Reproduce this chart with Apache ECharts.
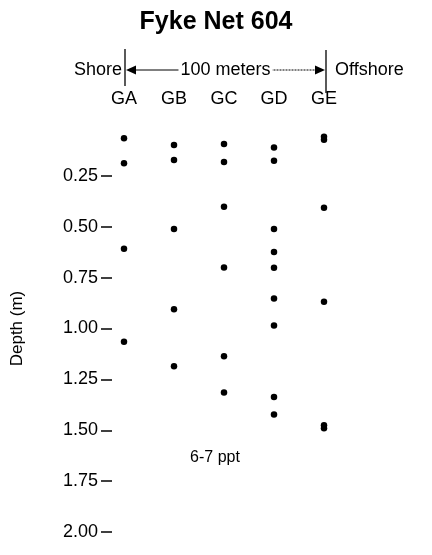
<!DOCTYPE html>
<html>
<head>
<meta charset="utf-8">
<script src="https://cdn.jsdelivr.net/npm/echarts@6/dist/echarts.min.js"></script>
<style>
html,body{margin:0;padding:0;background:#fff;}
#chart{width:432px;height:555px;}
</style>
</head>
<body>
<div id="chart"></div>
<script>
// ---- data ----
const stations = ['GA', 'GB', 'GC', 'GD', 'GE'];
const gaDepth = [0.065, 0.188, 0.608, 1.065];
const gbDepth = [0.098, 0.172, 0.511, 0.906, 1.185];
const gcDepth = [0.093, 0.182, 0.402, 0.700, 1.136, 1.314];
const gdDepth = [0.110, 0.176, 0.511, 0.624, 0.702, 0.852, 0.985, 1.337, 1.422];
const geDepth = [0.058, 0.072, 0.407, 0.869, 1.476, 1.490];
const depthTicks = [0.25, 0.50, 0.75, 1.00, 1.25, 1.50, 1.75, 2.00];
const titleText = 'Fyke Net 604';
const axisName = 'Depth (m)';
const salinityNote = '6-7 ppt';
const distanceNote = '100 meters';

const FONT = '"Liberation Sans", Arial, Helvetica, sans-serif';
const depthsByStation = [gaDepth, gbDepth, gcDepth, gdDepth, geDepth];

const chart = echarts.init(document.getElementById('chart'), null, {renderer: 'canvas'});

const option = {
  backgroundColor: '#fff',
  animation: false,
  title: {
    text: titleText,
    left: 'center',
    top: 5,
    textStyle: {fontFamily: FONT, fontWeight: 'bold', fontSize: 25, color: '#000'}
  },
  grid: {left: 99, width: 250, top: 125, height: 407},
  xAxis: {
    type: 'category',
    data: stations,
    position: 'top',
    boundaryGap: true,
    axisLine: {show: false},
    axisTick: {show: false},
    splitLine: {show: false},
    axisLabel: {fontFamily: FONT, fontSize: 18, color: '#000', margin: 17}
  },
  yAxis: {
    type: 'value',
    inverse: true,
    min: 0,
    max: 2,
    interval: 0.25,
    offset: -13,
    axisLine: {show: false},
    splitLine: {show: false},
    axisTick: {
      show: true, inside: false, length: 11,
      customValues: depthTicks,
      lineStyle: {color: '#000', width: 1.5}
    },
    axisLabel: {
      customValues: depthTicks,
      formatter: v => v.toFixed(2),
      fontFamily: FONT, fontSize: 18, color: '#000', margin: 14
    },
    name: axisName,
    nameLocation: 'middle',
    nameRotate: 90,
    nameGap: 86,
    nameTextStyle: {fontFamily: FONT, fontSize: 17, color: '#000'}
  },
  series: stations.map((s, i) => ({
    type: 'scatter',
    name: s,
    clip: false,
    symbol: 'circle',
    symbolSize: 6.5,
    itemStyle: {color: '#000', opacity: 1},
    emphasis: {disabled: true},
    data: depthsByStation[i].map(d => [s, d])
  }))
};
chart.setOption(option);

// ---- header annotation positioned from the axis scale ----
const px = (cat, d) => chart.convertToPixel({xAxisIndex: 0, yAxisIndex: 0}, [cat, d]);
const xA = px(stations[0], 0)[0] + 1;
const xE = px(stations[4], 0)[0] + 2;
const xMid = (xA + xE) / 2;
const yArrow = 70;
const note = px('GC', 1.632);

chart.setOption({
  graphic: [
    {type: 'line', shape: {x1: xA, y1: 49, x2: xA, y2: 86}, style: {stroke: '#000', lineWidth: 1.3}},
    {type: 'line', shape: {x1: xE, y1: 50, x2: xE, y2: 93}, style: {stroke: '#000', lineWidth: 1.3}},
    {type: 'line', shape: {x1: xA + 8, y1: yArrow, x2: xMid, y2: yArrow}, style: {stroke: '#000', lineWidth: 1}},
    {type: 'line', shape: {x1: xMid, y1: yArrow, x2: xE - 9, y2: yArrow}, style: {stroke: '#000', lineWidth: 1, lineDash: [2, 1]}},
    {type: 'polygon', shape: {points: [[xA + 1, yArrow], [xA + 11, yArrow - 4.5], [xA + 11, yArrow + 4.5]]}, style: {fill: '#000'}},
    {type: 'polygon', shape: {points: [[xE - 1, yArrow], [xE - 11, yArrow - 4.5], [xE - 11, yArrow + 4.5]]}, style: {fill: '#000'}},
    {type: 'text', x: xMid, y: yArrow, style: {text: distanceNote, fontFamily: FONT, fontSize: 18, fill: '#000', align: 'center', verticalAlign: 'middle', backgroundColor: '#fff', padding: [0, 2]}},
    {type: 'text', x: xA - 3, y: yArrow, style: {text: 'Shore', fontFamily: FONT, fontSize: 18, fill: '#000', align: 'right', verticalAlign: 'middle'}},
    {type: 'text', x: xE + 9, y: yArrow, style: {text: 'Offshore', fontFamily: FONT, fontSize: 18, fill: '#000', align: 'left', verticalAlign: 'middle'}},
    {type: 'text', x: note[0] - 9, y: note[1], style: {text: salinityNote, fontFamily: FONT, fontSize: 16, fill: '#000', align: 'center', verticalAlign: 'middle'}}
  ]
});
</script>
</body>
</html>
